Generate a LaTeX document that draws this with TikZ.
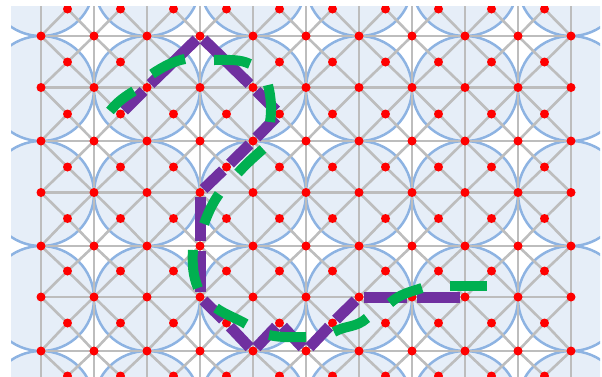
\documentclass[tikz,border=0pt]{standalone}
\definecolor{cellfill}{HTML}{E6EEF8}
\definecolor{cellline}{HTML}{8DB3E2}
\definecolor{gridline}{HTML}{BDBDBD}
\definecolor{pathpurple}{HTML}{7030A0}
\definecolor{pathgreen}{HTML}{00B050}
\tikzset{
  cellshape/.style={fill=cellfill,draw=cellline,line width=2.5pt},
  gridedge/.style={draw=gridline,line width=2.6pt},
  dot/.style={circle,fill=red,inner sep=0pt,minimum size=9pt},
  purpleedge/.style={draw=pathpurple,line width=11pt,shorten >=0.2pt,shorten <=0.2pt},
  greenstroke/.style={draw=pathgreen,line width=10pt,line join=round}
}
\begin{document}
\begin{tikzpicture}[x=1pt,y=-1pt]
\useasboundingbox (0,0) rectangle (602,376);
\begin{scope}
\clip (11,6) rectangle (600,376);
% circles
\foreach \cy in {-16.5,88.5,193.5,298.5,403.5}
  \foreach \cx in {41,147,253,359,465,571}
    \path[cellshape] (\cx,\cy) ellipse [x radius=53,y radius=52.5];
% lattice positions
\foreach \gy [count=\j from 0] in {36,87.5,141,192.5,246,297,351}
  \foreach \i in {0,...,10}
    \coordinate (c-\i-\j) at ({41+53*\i},\gy);
\foreach \my [count=\j from 0] in {9,62,114,167,218.5,271,323,376}
  \foreach \i in {0,...,9}
    \coordinate (d-\i-\j) at ({67.5+53*\i},\my);
\foreach \i in {0,...,10} {
  \coordinate (vt-\i) at ({41+53*\i},0);
  \coordinate (vb-\i) at ({41+53*\i},380);
  \draw[gridedge] (vt-\i) -- (vb-\i);
}
\foreach \j in {0,...,6}
  \draw[gridedge] (c-0-\j) -- (c-10-\j);
% diagonals
\foreach \j in {0,...,6}
  \foreach \i in {0,...,9} {
    \pgfmathtruncatemacro{\rowb}{\j+1}
    \pgfmathtruncatemacro{\colb}{\i+1}
    \draw[gridedge] (c-\i-\j) -- (d-\i-\j);
    \draw[gridedge] (c-\colb-\j) -- (d-\i-\j);
    \draw[gridedge] (c-\i-\j) -- (d-\i-\rowb);
    \draw[gridedge] (c-\colb-\j) -- (d-\i-\rowb);
  }
% dots
\foreach \j in {0,...,6}
  \foreach \i in {0,...,10}
    \node[dot] (n-\i-\j) at (c-\i-\j) {};
\foreach \j in {0,...,7}
  \foreach \i in {0,...,9}
    \node[dot] (m-\i-\j) at (d-\i-\j) {};
\end{scope}
% purple route
\draw[purpleedge] (m-1-2) -- (n-2-1);
\draw[purpleedge] (n-2-1) -- (n-3-0);
\draw[purpleedge] (n-3-0) -- (n-4-1);
\draw[purpleedge] (n-4-1) -- (m-4-2);
\draw[purpleedge] (m-4-2) -- (n-4-2);
\draw[purpleedge] (n-4-2) -- (m-3-3);
\draw[purpleedge] (m-3-3) -- (n-3-3);
\draw[purpleedge] (n-3-3) -- (n-3-4);
\draw[purpleedge] (n-3-4) -- (n-3-5);
\draw[purpleedge] (n-3-5) -- (m-3-6);
\draw[purpleedge] (m-3-6) -- (n-4-6);
\draw[purpleedge] (n-4-6) -- (m-4-6);
\draw[purpleedge] (m-4-6) -- (n-5-6);
\draw[purpleedge] (n-5-6) -- (m-5-6);
\draw[purpleedge] (m-5-6) -- (n-6-5);
\draw[purpleedge] (n-6-5) -- (n-7-5);
\draw[purpleedge] (n-7-5) -- (n-8-5);
% green strokes
\draw[greenstroke] (110,111) .. controls (118,101) and (126,96) .. (134,91);
\draw[greenstroke] (152,74) .. controls (164,66) and (174,61) .. (185,59);
\draw[greenstroke] (214,60) .. controls (228,60) and (240,59) .. (250,64);
\draw[greenstroke] (268,85) .. controls (271,97) and (272,109) .. (270,122);
\draw[greenstroke] (263,149) .. controls (254,157) and (246,164) .. (238,173);
\draw[greenstroke] (219,194) .. controls (212,204) and (208,213) .. (204,224);
\draw[greenstroke] (193,250) .. controls (192,264) and (193,276) .. (198,288);
\draw[greenstroke] (216,308) .. controls (226,315) and (238,319) .. (246,324);
\draw[greenstroke] (269,335) .. controls (282,338) and (294,337) .. (306,337);
\draw[greenstroke] (334,332) .. controls (346,325) and (356,328) .. (367,318);
\draw[greenstroke] (390,303) .. controls (400,294) and (410,292) .. (422,288);
\draw[greenstroke] (450,285.5) -- (487,285.5);
\end{tikzpicture}
\end{document}
